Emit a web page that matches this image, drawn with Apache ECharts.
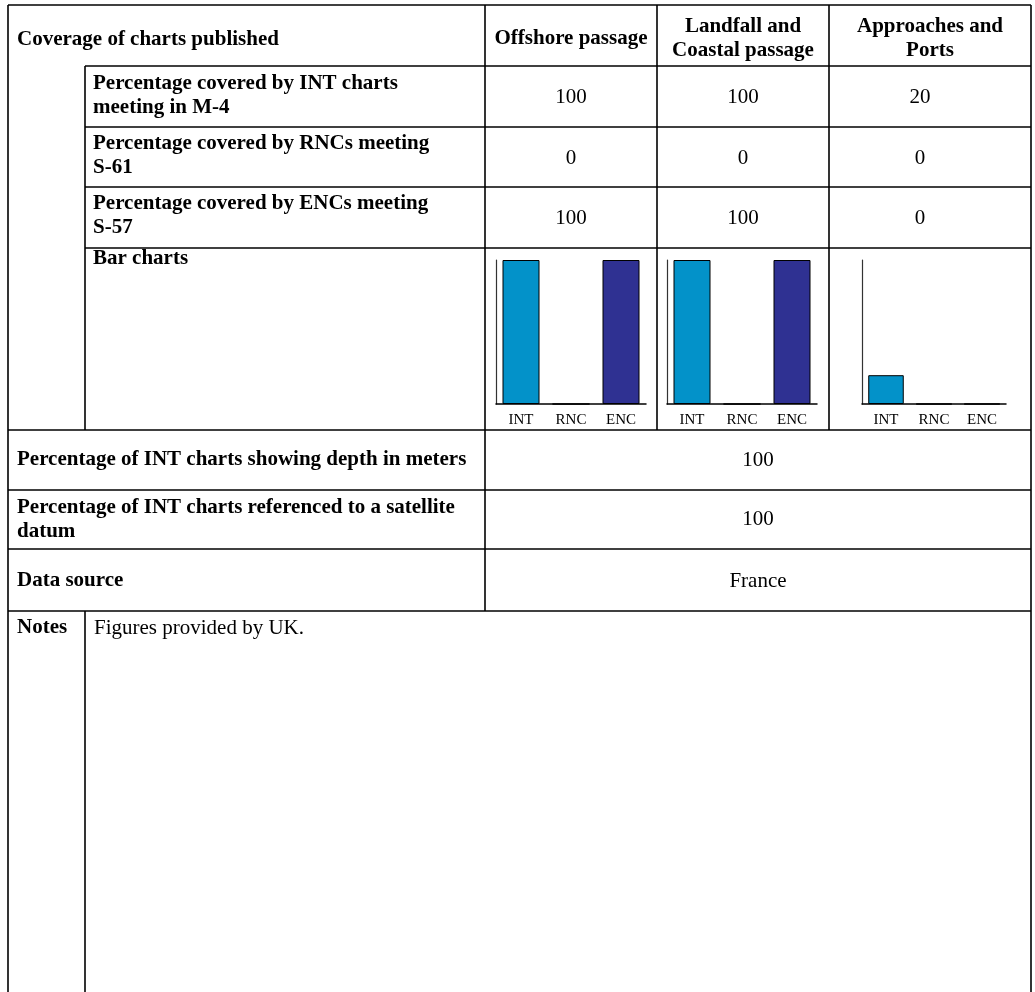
<!DOCTYPE html>
<html>
<head>
<meta charset="utf-8">
<script src="https://cdn.jsdelivr.net/npm/echarts@6/dist/echarts.min.js"></script>
<style>
html,body{margin:0;padding:0;background:#fff;}
#c{width:1035px;height:992px;}
</style>
</head>
<body>
<div id="c"></div>
<script>
// ---- data ----
const categories = ['INT', 'RNC', 'ENC'];
const passages = ['Offshore passage', 'Landfall and\nCoastal passage', 'Approaches and\nPorts'];
const intValues = [100, 100, 20];
const rncValues = [0, 0, 0];
const encValues = [100, 100, 0];
const rowLabels = [
  'Percentage covered by INT charts\nmeeting in M-4',
  'Percentage covered by RNCs meeting\nS-61',
  'Percentage covered by ENCs meeting\nS-57'
];
const headerLabel = 'Coverage of charts published';
const barRowLabel = 'Bar charts';
const depthLabel = 'Percentage of INT charts showing depth in meters';
const depthValue = 100;
const satelliteLabel = 'Percentage of INT charts referenced to a satellite\ndatum';
const satelliteValue = 100;
const sourceLabel = 'Data source';
const sourceValue = 'France';
const notesLabel = 'Notes';
const notesText = 'Figures provided by UK.';

// ---- layout ----
const X0 = 8, XSUB = 85, XLAB = 485, XR = 1031;
const colX = [485, 657, 829, XR];
const headCx = [571, 743, 930];
const valCx = [571, 743, 920];
const chartLeft = [496, 667, 862];
const chartWidth = [150, 150, 144];
const yTop = 5, yHead = 66;
const yRows = [66, 127, 187, 248];
const labelCy = [96, 156, 216];
const yBarRowEnd = 430, yDepthEnd = 490, ySatEnd = 549, ySrcEnd = 611, yBottom = 1000;
const INT_COLOR = '#0392c9', ENC_COLOR = '#2f3192';
const BOLD = 'bold 21px "Liberation Serif"';
const REG = '21px "Liberation Serif"';
const LW = 1.6, LC = '#000';

const g = [];
function hline(y, x1, x2) { g.push({type:'line', shape:{x1:x1, y1:y, x2:x2, y2:y}, style:{stroke:LC, lineWidth:LW}, silent:true}); }
function vline(x, y1, y2) { g.push({type:'line', shape:{x1:x, y1:y1, x2:x, y2:y2}, style:{stroke:LC, lineWidth:LW}, silent:true}); }
function txt(s, x, y, font, align, valign) {
  g.push({type:'text', silent:true, style:{text:String(s), x:x, y:y, font:font, fill:'#000',
    textAlign:align || 'left', textVerticalAlign:valign || 'middle', lineHeight:24}});
}

// horizontal lines
hline(yTop, X0, XR);
yRows.forEach(y => hline(y, XSUB, XR));
[yBarRowEnd, yDepthEnd, ySatEnd, ySrcEnd].forEach(y => hline(y, X0, XR));
// vertical lines
vline(X0, yTop, yBottom);
vline(XR, yTop, yBottom);
vline(XSUB, yHead, yBarRowEnd);
vline(XSUB, ySrcEnd, yBottom);
vline(XLAB, yTop, ySrcEnd);
vline(colX[1], yTop, yBarRowEnd);
vline(colX[2], yTop, yBarRowEnd);

// header
txt(headerLabel, 17, 40, BOLD);
passages.forEach((p, i) => txt(p, headCx[i], 39, BOLD, 'center'));
// rows of values
const tableValues = [intValues, rncValues, encValues];
rowLabels.forEach((lab, r) => {
  const top = yRows[r], bot = yRows[r + 1];
  txt(lab, 93, labelCy[r], BOLD);
  tableValues[r].forEach((v, i) => txt(v, valCx[i], (top + bot) / 2 + 1, REG, 'center'));
});
txt(barRowLabel, 93, 259, BOLD);
const midVal = (XLAB + XR) / 2;
txt(depthLabel, 17, (yBarRowEnd + yDepthEnd) / 2, BOLD);
txt(depthValue, midVal, (yBarRowEnd + yDepthEnd) / 2, REG, 'center');
txt(satelliteLabel, 17, (yDepthEnd + ySatEnd) / 2, BOLD);
txt(satelliteValue, midVal, (yDepthEnd + ySatEnd) / 2, REG, 'center');
txt(sourceLabel, 17, (ySatEnd + ySrcEnd) / 2 + 1, BOLD);
txt(sourceValue, midVal, (ySatEnd + ySrcEnd) / 2 + 1, REG, 'center');
txt(notesLabel, 17, 628, BOLD);
txt(notesText, 94, 628, REG);

// ---- bar charts ----
const grids = [], xAxes = [], yAxes = [], series = [];
for (let i = 0; i < 3; i++) {
  grids.push({left: chartLeft[i], width: chartWidth[i], top: 260, height: 144});
  xAxes.push({type:'category', gridIndex:i, data:categories,
    axisTick:{show:false},
    axisLine:{lineStyle:{color:'#000', width:1.5}},
    axisLabel:{color:'#000', fontFamily:'Liberation Serif', fontSize:15, margin:9}});
  yAxes.push({type:'value', gridIndex:i, min:0, max:100,
    axisLine:{show:true, lineStyle:{color:'#333', width:1.2}},
    axisTick:{show:false}, axisLabel:{show:false}, splitLine:{show:false}});
  series.push({type:'bar', xAxisIndex:i, yAxisIndex:i, barCategoryGap:'26%', animation:false,
    itemStyle:{borderColor:'#000', borderWidth:1},
    data:[
      {value:intValues[i], itemStyle:{color:INT_COLOR}},
      {value:rncValues[i], itemStyle:{color:'#888'}},
      {value:encValues[i], itemStyle:{color:ENC_COLOR}}
    ]});
}

const chart = echarts.init(document.getElementById('c'), null, {renderer:'canvas'});
chart.setOption({
  backgroundColor:'#fff',
  animation:false,
  grid:grids, xAxis:xAxes, yAxis:yAxes, series:series,
  graphic:g
});
</script>
</body>
</html>
